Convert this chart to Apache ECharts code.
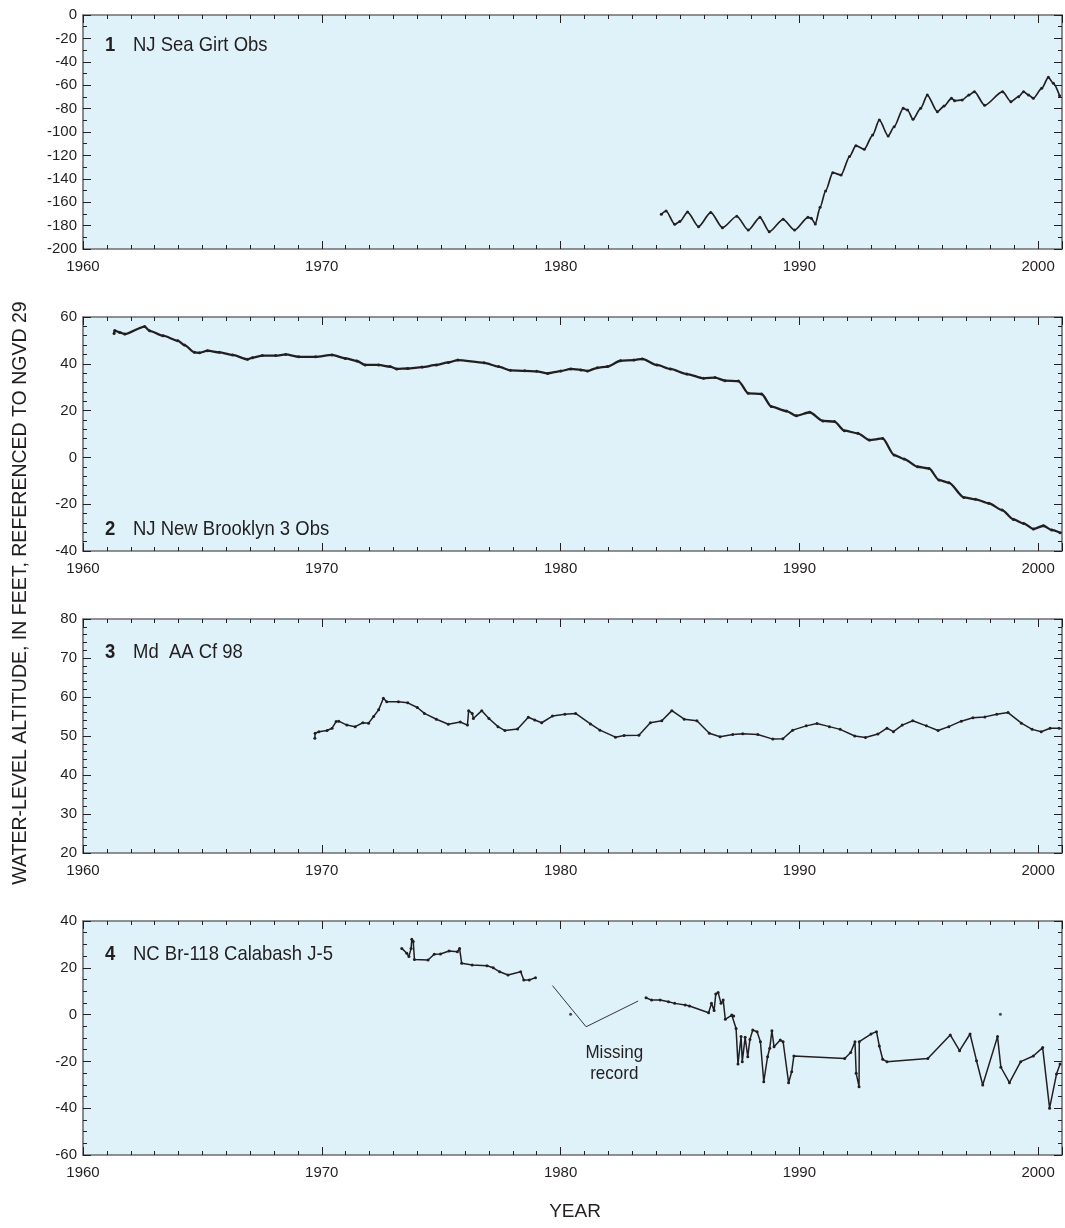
<!DOCTYPE html>
<html><head><meta charset="utf-8">
<script src="https://cdn.jsdelivr.net/npm/echarts@6/dist/echarts.min.js"></script>
<style>html,body{margin:0;padding:0;background:#fff}#c{width:1065px;height:1228px}</style>
</head><body><div id="c"></div>
<script>
// ---------- DATA ----------
const xTickLabels = [1960, 1970, 1980, 1990, 2000];

const panelNumbers = ['1', '2', '3', '4'];
const panelNames = ['NJ Sea Girt Obs', 'NJ New Brooklyn 3 Obs', 'Md  AA Cf 98', 'NC Br-118 Calabash J-5'];

// [min, max, major interval, minor splits]
const yRanges = [[-200, 0, 20, 2], [-40, 60, 20, 5], [20, 80, 10, 5], [-60, 40, 20, 4]];

const seaGirt = [
  [1984.22,-170.3],[1984.42,-167.5],[1984.78,-178.9],[1984.99,-176.6],[1985.32,-168.4],[1985.78,-180.9],
  [1986.29,-168.7],[1986.78,-181.8],[1987.38,-172.0],[1987.86,-183.8],[1988.35,-172.9],[1988.74,-185.2],
  [1989.32,-174.6],[1989.80,-183.8],[1990.36,-172.9],[1990.50,-173.8],[1990.67,-178.6],[1990.87,-164.4],
  [1991.10,-150.4],[1991.40,-134.8],[1991.75,-136.8],[1992.10,-121.0],[1992.37,-111.7],[1992.72,-114.8],
  [1993.07,-102.6],[1993.35,-89.7],[1993.72,-103.4],[1993.97,-95.5],[1994.35,-79.8],[1994.53,-81.2],
  [1994.76,-89.2],[1995.08,-79.8],[1995.36,-68.4],[1995.78,-82.6],[1996.06,-77.8],[1996.37,-71.2],
  [1996.50,-73.2],[1996.82,-72.6],[1997.10,-68.4],[1997.33,-65.5],[1997.76,-77.2],[1998.51,-65.5],
  [1998.86,-74.1],[1999.18,-69.8],[1999.39,-65.5],[1999.60,-68.4],[1999.80,-71.2],[2000.15,-62.7],
  [2000.43,-53.3],[2000.64,-58.4],[2000.90,-69.0]
];

const newBrooklyn = [
  [1961.30,53.0],[1961.33,54.2],[1961.54,53.4],[1961.75,52.7],[1962.58,55.9],[1962.79,54.1],
  [1963.35,52.0],[1963.97,49.9],[1964.25,48.0],[1964.67,44.9],[1964.88,44.7],[1965.22,45.6],
  [1965.71,44.9],[1966.26,43.8],[1966.89,41.9],[1967.10,42.6],[1967.51,43.5],[1968.07,43.5],
  [1968.49,44.0],[1969.04,43.0],[1969.74,43.0],[1970.43,43.8],[1970.99,42.3],[1971.47,41.2],
  [1971.82,39.5],[1972.38,39.5],[1972.86,38.8],[1973.14,37.8],[1973.60,38.0],[1974.20,38.6],
  [1974.80,39.5],[1975.30,40.6],[1975.70,41.6],[1976.80,40.4],[1977.40,38.8],[1977.90,37.2],
  [1978.50,37.0],[1979.00,36.8],[1979.46,35.9],[1980.01,36.9],[1980.43,37.8],[1980.85,37.4],
  [1981.13,36.9],[1981.54,38.3],[1981.96,38.8],[1982.51,41.3],[1983.07,41.6],[1983.42,42.1],
  [1984.04,39.5],[1984.60,37.8],[1985.29,35.6],[1985.99,33.8],[1986.47,34.1],[1986.89,32.8],
  [1987.45,32.6],[1987.86,27.4],[1988.42,27.1],[1988.83,21.7],[1989.46,19.8],[1989.88,17.8],
  [1990.43,19.3],[1990.99,15.6],[1991.47,15.3],[1991.89,11.4],[1992.45,10.3],[1992.93,7.4],
  [1993.49,8.1],[1993.97,1.0],[1994.39,-0.7],[1994.95,-4.0],[1995.43,-4.7],[1995.85,-9.7],
  [1996.26,-10.8],[1996.89,-17.1],[1997.38,-17.9],[1997.93,-19.6],[1998.49,-22.5],[1998.97,-26.5],
  [1999.39,-28.2],[1999.80,-30.6],[2000.22,-29.2],[2000.57,-31.0],[2000.92,-32.2]
];

const mdAA = [
  [1969.71,49.4],[1969.72,50.7],[1969.88,51.1],[1970.22,51.4],[1970.43,52.0],[1970.60,53.7],
  [1970.71,53.8],[1971.05,52.8],[1971.40,52.4],[1971.72,53.4],[1971.96,53.3],[1972.17,55.0],
  [1972.38,56.7],[1972.58,59.7],[1972.72,58.8],[1973.21,58.8],[1973.60,58.5],[1974.00,57.3],
  [1974.30,55.8],[1974.80,54.3],[1975.30,53.0],[1975.80,53.6],[1976.10,52.8],[1976.15,56.5],
  [1976.30,55.8],[1976.35,54.5],[1976.70,56.5],[1977.00,54.5],[1977.38,52.4],[1977.67,51.4],
  [1978.20,51.8],[1978.65,54.8],[1978.92,54.1],[1979.21,53.4],[1979.66,55.1],[1980.18,55.6],
  [1980.63,55.8],[1981.25,53.1],[1981.65,51.5],[1982.30,49.7],[1982.66,50.1],[1983.28,50.2],
  [1983.76,53.4],[1984.24,53.9],[1984.66,56.5],[1985.18,54.3],[1985.71,53.9],[1986.23,50.7],
  [1986.68,49.8],[1987.21,50.4],[1987.63,50.6],[1988.26,50.4],[1988.89,49.2],[1989.31,49.3],
  [1989.72,51.5],[1990.29,52.6],[1990.74,53.2],[1991.26,52.4],[1991.71,51.7],[1992.32,50.0],
  [1992.77,49.6],[1993.29,50.5],[1993.67,52.0],[1993.94,51.1],[1994.31,52.8],[1994.75,53.9],
  [1995.32,52.6],[1995.81,51.4],[1996.26,52.4],[1996.78,53.8],[1997.27,54.7],[1997.77,54.9],
  [1998.27,55.6],[1998.74,56.0],[1999.30,53.3],[1999.75,51.7],[2000.13,51.1],[2000.50,52.0],
  [2000.88,52.0]
];

const calabash = [
  [1973.35,28.3],[1973.56,26.2],[1973.65,24.8],[1973.74,28.3],[1973.77,32.2],[1973.83,31.2],
  [1973.88,23.6],[1974.45,23.3],[1974.71,25.8],[1974.97,25.9],[1975.33,27.2],[1975.68,26.9],
  [1975.77,28.3],[1975.86,21.9],[1976.30,21.2],[1976.92,20.9],[1977.18,20.0],[1977.45,18.3],
  [1977.80,16.9],[1978.33,18.3],[1978.46,14.8],[1978.69,14.8],[1978.95,15.8],
  null,
  [1983.58,7.2],[1983.81,6.2],[1984.17,6.2],[1984.52,5.5],[1984.78,4.8],[1985.22,4.1],[1985.40,3.7],
  [1986.20,0.8],[1986.32,4.8],[1986.43,1.7],[1986.50,8.8],[1986.60,9.4],[1986.72,4.8],[1986.81,6.2],
  [1986.90,-2.0],[1987.17,-0.2],[1987.25,-0.6],[1987.35,-5.9],[1987.43,-21.1],[1987.56,-9.4],
  [1987.61,-20.1],[1987.73,-9.7],[1987.84,-18.0],[1987.93,-10.6],[1988.05,-6.6],[1988.23,-7.3],
  [1988.37,-11.6],[1988.51,-28.7],[1988.67,-18.0],[1988.76,-14.4],[1988.85,-6.9],[1988.94,-13.7],
  [1989.20,-10.9],[1989.32,-11.6],[1989.55,-29.1],[1989.68,-24.4],[1989.77,-17.7],[1991.90,-18.8],
  [1992.15,-16.2],[1992.33,-11.6],[1992.38,-25.1],[1992.50,-30.8],[1992.51,-11.6],[1993.00,-8.3],
  [1993.23,-7.3],[1993.35,-13.4],[1993.49,-19.1],[1993.67,-20.1],[1995.38,-18.8],[1996.32,-8.7],
  [1996.71,-15.4],[1997.15,-8.3],[1997.42,-19.7],[1997.68,-30.1],[1998.30,-9.4],[1998.44,-22.5],
  [1998.80,-29.1],[1999.27,-20.1],[1999.80,-17.7],[2000.19,-14.1],[2000.48,-40.0],[2000.77,-25.4],
  [2000.92,-21.1]
];
const calabashIsolated = [[1980.42,0.1],[1998.42,0.1]];

// "Missing record" call-out (data coordinates on panel 4)
const calloutPath = [[1979.66,12.4],[1981.07,-5.2],[1983.25,5.8]];
const calloutTextAt = [1982.25,-20.7];
const calloutLines = ['Missing', 'record'];

const yTitle = 'WATER-LEVEL ALTITUDE, IN FEET, REFERENCED TO NGVD 29';
const xTitle = 'YEAR';

// ---------- LAYOUT / STYLE ----------
const GRID_TOPS = [15, 317, 619, 921];
const GRID_H = 234, GRID_LEFT = 83, GRID_W = 984;
const WIDE = "'Liberation Sans',Arial,sans-serif";
const INK = '#231f20';
const FRAME = '#6d6e71';
const BG = '#dff2fa';
const TITLE_Y = [45, 529, 652, 954];
const SQUEEZE = 0.88;
const LINE_W = [1.7, 2.3, 1.5, 1.5];

const seriesData = [seaGirt, newBrooklyn, mdAA, calabash];

const grids = [], xAxes = [], yAxes = [], series = [], graphics = [];

yRanges.forEach((r, i) => {
  grids.push({left: GRID_LEFT, width: GRID_W, top: GRID_TOPS[i], height: GRID_H,
    show: true, backgroundColor: BG, borderWidth: 0});
  const lineStyle = {color: FRAME, width: 1.6};
  const tickStyle = {color: INK, width: 1};
  ['bottom', 'top'].forEach(pos => {
    xAxes.push({type: 'value', gridIndex: i, position: pos, min: 1960, max: 2001, interval: 10,
      axisLine: {show: true, onZero: false, lineStyle},
      axisTick: {show: true, inside: true, length: 8, lineStyle: tickStyle},
      axisLabel: {show: pos === 'bottom', margin: 10, color: INK, fontSize: 15, fontFamily: WIDE,
        formatter: v => xTickLabels.includes(v) ? String(v) : ''},
      splitLine: {show: false}});
    xAxes.push({type: 'value', gridIndex: i, position: pos, min: 1960, max: 2001, interval: 1,
      axisLine: {show: false, onZero: false},
      axisTick: {show: true, inside: true, length: 4, lineStyle: tickStyle},
      axisLabel: {show: false}, splitLine: {show: false}});
  });
  ['left', 'right'].forEach(pos => {
    yAxes.push({type: 'value', gridIndex: i, position: pos, min: r[0], max: r[1], interval: r[2],
      axisLine: {show: true, onZero: false, lineStyle},
      axisTick: {show: true, inside: true, length: 8, lineStyle: tickStyle},
      minorTick: {show: true, splitNumber: r[3], length: 4, lineStyle: tickStyle},
      axisLabel: {show: pos === 'left', margin: 6, color: INK, fontSize: 15, fontFamily: WIDE},
      splitLine: {show: false}, minorSplitLine: {show: false}});
  });
  series.push({type: 'line', xAxisIndex: 4 * i, yAxisIndex: 2 * i, data: seriesData[i],
    showSymbol: true, symbol: 'circle', symbolSize: 3, connectNulls: false,
    smooth: i < 2 ? 0.25 : false, smoothMonotone: 'x',
    lineStyle: {color: INK, width: LINE_W[i]}, itemStyle: {color: INK},
    silent: true, animation: false, z: 3});
  graphics.push({type: 'text', x: 105, y: TITLE_Y[i], scaleX: SQUEEZE,
    style: {text: panelNumbers[i], font: 'bold 21px ' + WIDE, fill: INK, verticalAlign: 'middle'}});
  graphics.push({type: 'text', x: 133, y: TITLE_Y[i], scaleX: SQUEEZE,
    style: {text: panelNames[i], font: '21px ' + WIDE, fill: INK, verticalAlign: 'middle'}});
});

series.push({type: 'scatter', xAxisIndex: 12, yAxisIndex: 6, data: calabashIsolated,
  symbolSize: 3, itemStyle: {color: INK}, silent: true, animation: false});
series.push({type: 'line', xAxisIndex: 12, yAxisIndex: 6, data: calloutPath, showSymbol: false,
  symbol: 'none', lineStyle: {color: INK, width: 0.9}, silent: true, animation: false});

graphics.push({type: 'text', x: 21, y: 593, rotation: Math.PI / 2,
  style: {text: yTitle, font: '19.5px ' + WIDE, fill: INK, align: 'center', verticalAlign: 'middle'}});
graphics.push({type: 'text', x: 575, y: 1212,
  style: {text: xTitle, font: '19px ' + WIDE, fill: INK, align: 'center', verticalAlign: 'middle'}});

const chart = echarts.init(document.getElementById('c'), null, {renderer: 'canvas'});
chart.setOption({animation: false, grid: grids, xAxis: xAxes, yAxis: yAxes, series, graphic: graphics});

// place the call-out text through the panel-4 scales
const p = chart.convertToPixel({xAxisIndex: 12, yAxisIndex: 6}, calloutTextAt);
calloutLines.forEach((t, k) => {
  graphics.push({type: 'text', x: p[0], y: p[1] + (k - 0.5) * 21, scaleX: 0.92,
    style: {text: t, font: '18.5px ' + WIDE, fill: INK, align: 'center', verticalAlign: 'middle'}});
});
chart.setOption({graphic: graphics});
</script>
</body></html>
